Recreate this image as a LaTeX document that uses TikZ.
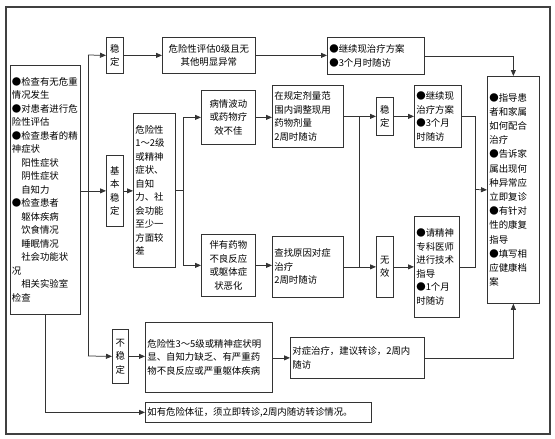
\documentclass[tikz,border=0pt]{standalone}
\usepackage{fontspec}
\setmainfont{Noto Sans CJK SC}
\usetikzlibrary{arrows.meta,calc}
\newcommand\myfs{\fontsize{9.4pt}{13.5pt}\selectfont}
\begin{document}
\begin{tikzpicture}[x=1pt,y=-1pt,
  bx/.style={draw=black!80, line width=0.75pt, inner sep=2pt, font=\myfs, anchor=north west},
  ar/.style={-{Triangle[length=6pt,width=5pt]}, line width=0.75pt, draw=black!80},
  ln/.style={line width=0.75pt, draw=black!80}]
\useasboundingbox (0,0) rectangle (555,439);
\draw[line width=1.6pt, draw=black!75] (6,7) rectangle (550,434);

% left box
\node[bx, minimum width=70.5pt, minimum height=249pt, text width=66.5pt, align=left] (L) at (9.5,65)
{●检查有无危重\\情况发生\\●对患者进行危\\险性评估\\●检查患者的精\\神症状\\
\hspace*{1em}阳性症状\\\hspace*{1em}阴性症状\\\hspace*{1em}自知力\\●检查患者\\
\hspace*{1em}躯体疾病\\\hspace*{1em}饮食情况\\\hspace*{1em}睡眠情况\\\hspace*{1em}社会功能状\\况\\
\hspace*{1em}相关实验室\\检查};

% stable branch
\node[bx, minimum width=17pt, minimum height=36pt, align=center] (S1) at (106,37) {稳\\定};
\node[bx, minimum width=93pt, minimum height=36pt, align=center] (B0) at (162,37) {危险性评估0级且无\\其他明显异常};
\node[bx, minimum width=97pt, minimum height=37pt, text width=93pt, align=left] (C1) at (327,37) {●继续现治疗方案\\●3个月时随访};

% right box
\node[bx, minimum width=52pt, minimum height=227pt, text width=48pt, align=left, font=\fontsize{9.4pt}{14.2pt}\selectfont] (R) at (487,76)
{●指导患\\者和家属\\如何配合\\治疗\\●告诉家\\属出现何\\种异常应\\立即复诊\\●有针对\\性的康复\\指导\\●填写相\\应健康档\\案};

% basically stable branch
\node[bx, minimum width=17pt, minimum height=71pt, align=center] (S2) at (106,155) {基\\本\\稳\\定};
\node[bx, minimum width=42pt, minimum height=154pt, text width=38pt, align=left] (D1) at (133,113)
{危险性\\1～2级\\或精神\\症状、\\自知\\力、社\\会功能\\至少一\\方面较\\差};
\node[bx, minimum width=54pt, minimum height=54pt, align=center] (P1) at (201,90) {病情波动\\或药物疗\\效不佳};
\node[bx, minimum width=71pt, minimum height=62pt, text width=67pt, align=left] (P2) at (272,85)
{在规定剂量范\\围内调整现用\\药物剂量\\2周时随访};
\node[bx, minimum width=17pt, minimum height=38pt, align=center] (S3) at (376,97) {稳\\定};
\node[bx, minimum width=47pt, minimum height=62pt, text width=43pt, align=left] (C2) at (414,85)
{●继续现\\治疗方案\\●3个月\\时随访};

\node[bx, minimum width=54pt, minimum height=62pt, align=center] (Q1) at (201,234) {伴有药物\\不良反应\\或躯体症\\状恶化};
\node[bx, minimum width=71pt, minimum height=61pt, text width=67pt, align=left] (Q2) at (272,236)
{查找原因对症\\治疗\\2周时随访};
\node[bx, minimum width=17pt, minimum height=61pt, align=center] (W) at (376,236) {无\\效};
\node[bx, minimum width=45pt, minimum height=101pt, text width=41pt, align=left] (E) at (414,216)
{●请精神\\专科医师\\进行技术\\指导\\●1个月\\时随访};

% unstable branch
\node[bx, minimum width=16pt, minimum height=54pt, align=center] (U) at (112,329) {不\\稳\\定};
\node[bx, minimum width=127pt, minimum height=70pt, text width=123pt, align=left] (F) at (145,322)
{危险性3～5级或精神症状明\\显、自知力缺乏、有严重药\\物不良反应或严重躯体疾病};
\node[bx, minimum width=134pt, minimum height=41pt, text width=130pt, align=left] (G) at (290,337)
{对症治疗，建议转诊，2周内\\随访};
\node[bx, minimum width=226pt, minimum height=20pt, text width=222pt, align=left] (H) at (145,402)
{如有危险体征，须立即转诊,2周内随访转诊情况。};

% connectors
\coordinate (T1) at (88,55);
\coordinate (T3) at (88,356);
\draw[ln] (T1) -- (T3);
\draw[ar] (L.east |- S2.west) -- (S2.west);
\draw[ar] (T1) -- (S1.west);
\draw[ar] (T3) -- (U.west);
\draw[ar] (S1.east) -- (B0.west);
\draw[ar] (B0.east) -- (B0.east -| C1.west);
\draw[ar] (C1.east) -| (R.north);
\draw[ar] (S2.east) -- (S2.east -| D1.west);
\coordinate (J1) at (183,190);
\draw[ln] (D1.east |- J1) -- (J1);
\draw[ar] (J1) |- (P1.west);
\draw[ar] (J1) |- (Q1.west);
\draw[ar] (P1.east) -- (P1.east -| P2.west);
\draw[ar] (Q1.east) -- (Q1.east -| Q2.west);
\draw[ar] (P2.east) -- (P2.east -| S3.west);
\draw[ar] (Q2.east) -- (Q2.east -| W.west);
\coordinate (K1) at (359,116);
\coordinate (K2) at (359,266.5);
\draw[ln] (K1) -- (K2);
\draw[ar] (S3.east) -- (S3.east -| C2.west);
\draw[ar] (W.east) -- (W.east -| E.west);
\coordinate (M) at (475,189.5);
\draw[ln] (C2.east) -| (M);
\draw[ln] (E.east) -| (M);
\draw[ar] (M) -- (R.west);
\draw[ar] (U.east) -- (U.east -| F.west);
\draw[ar] (F.east |- G.west) -- (G.west);
\draw[ar] (G.east) -| (R.south);
\draw[ar] (L.south) |- (H.west);
\end{tikzpicture}
\end{document}
